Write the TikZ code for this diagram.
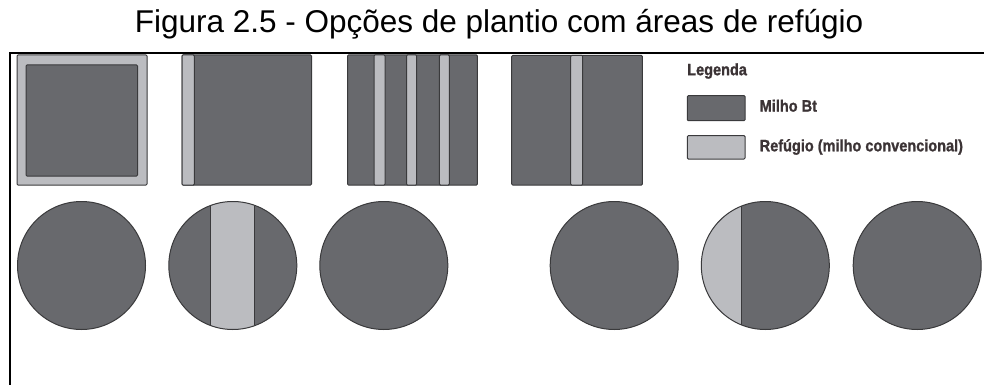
\documentclass[tikz,border=0pt]{standalone}
\usepackage{fontspec}
\setmainfont{Liberation Sans}
\newfontfamily\legfont[FakeStretch=0.88,FakeBold=1.2]{Liberation Sans Bold}
\definecolor{darkg}{HTML}{68696D}
\definecolor{lightg}{HTML}{BBBCC0}
\definecolor{edgeg}{HTML}{3A3A3C}
\definecolor{legtext}{HTML}{3B3335}
\begin{document}
\begin{tikzpicture}[x=1pt,y=-1pt,
  field/.style={fill=darkg,draw=edgeg,line width=1pt,rounded corners=1pt},
  refuge/.style={fill=lightg,draw=edgeg,line width=1pt,rounded corners=1pt},
  leg/.style={font=\legfont\fontsize{16.5}{18}\selectfont,text=legtext,anchor=west,inner sep=0pt}]
\useasboundingbox (0,0) rectangle (984,385);
% title
\node[font=\fontsize{31.5}{36}\selectfont,inner sep=0pt] (title) at (499,24) {Figura 2.5 - Opções de plantio com áreas de refúgio};
% frame
\draw[line width=2pt] (984,52.7) -- (9.5,52.7) -- (9.5,385);
% square 1: border refuge
\draw[refuge] (17,55) rectangle (147,185);
\draw[field] (26,65) rectangle (137.5,176);
% square 2: strip at left
\draw[field] (182,55) rectangle (311.5,185);
\draw[refuge] (182,55) rectangle (194.3,185);
% square 3: three strips
\draw[field] (347.5,55) rectangle (477.3,185);
\draw[refuge] (374,55) rectangle (385,185);
\draw[refuge] (406.5,55) rectangle (416.7,185);
\draw[refuge] (439.3,55) rectangle (449.3,185);
% square 4: central strip
\draw[field] (511.7,55.5) rectangle (642.3,185);
\draw[refuge] (570.7,55.5) rectangle (582.7,185);
% legend
\node[leg] (legtitle) at (687,71) {Legenda};
\draw[field] (687.3,95.7) rectangle (745,120.7);
\node[leg] (legbt) at (759.5,105.7) {Milho Bt};
\draw[refuge] (687.3,135.7) rectangle (745,159);
\node[leg] (legref) at (759.5,147) {Refúgio (milho convencional)};
% circles
\draw[fill=darkg,draw=edgeg,line width=1pt] (81.5,265.5) circle (64);
% circle 2 with central strip
\begin{scope}
  \clip (232.8,265.5) circle (64);
  \fill[darkg] (232.8,265.5) circle (64);
  \draw[fill=lightg,draw=edgeg,line width=1pt] (210.7,190) rectangle (254,340);
\end{scope}
\draw[draw=edgeg,line width=1pt] (232.8,265.5) circle (64);
\draw[fill=darkg,draw=edgeg,line width=1pt] (383.8,265.5) circle (64);
\draw[fill=darkg,draw=edgeg,line width=1pt] (614.2,265.5) circle (64);
% circle 5 with left segment
\begin{scope}
  \clip (765.3,265.5) circle (64);
  \fill[darkg] (765.3,265.5) circle (64);
  \fill[lightg] (690,190) rectangle (741.7,340);
  \draw[edgeg,line width=1pt] (741.7,190) -- (741.7,340);
\end{scope}
\draw[draw=edgeg,line width=1pt] (765.3,265.5) circle (64);
\draw[fill=darkg,draw=edgeg,line width=1pt] (917.2,265.5) circle (64);
\end{tikzpicture}
\end{document}
